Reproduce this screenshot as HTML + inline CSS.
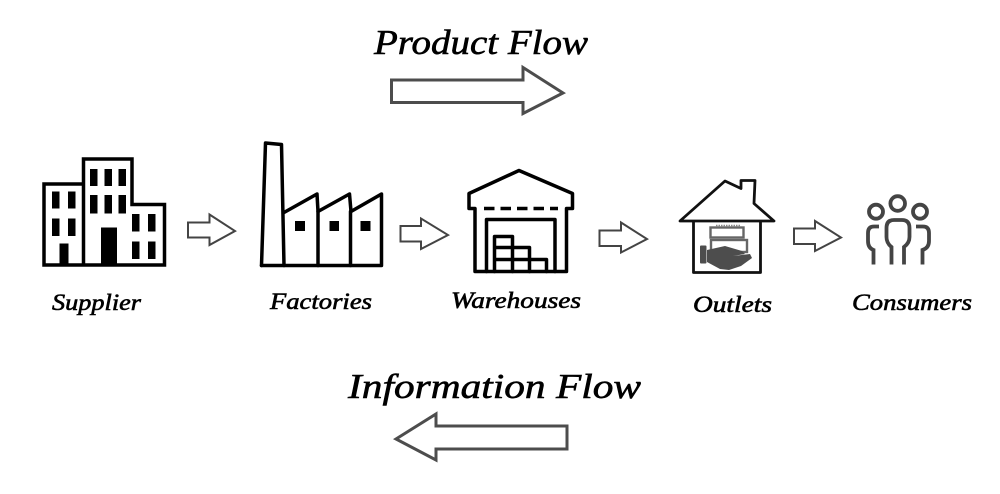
<!DOCTYPE html>
<html>
<head>
<meta charset="utf-8">
<style>
html,body{margin:0;padding:0;background:#fff;width:1000px;height:494px;overflow:hidden}
svg{display:block}
text{font-family:"Liberation Serif",serif;font-style:italic;fill:#000;stroke:#000;stroke-width:.6px}
</style>
</head>
<body>
<svg width="1000" height="494" viewBox="0 0 1000 494" xmlns="http://www.w3.org/2000/svg">
<rect width="1000" height="494" fill="#fff"/>

<!-- Titles -->
<text x="374" y="54" font-size="35" textLength="214" lengthAdjust="spacingAndGlyphs">Product Flow</text>
<text x="348" y="398" font-size="35" textLength="293" lengthAdjust="spacingAndGlyphs">Information Flow</text>

<!-- Big arrows -->
<path d="M391.500 80H523V67.500L563 93 523 113.500V102.500H391.500Z" fill="#fff" stroke="#4d4d4d" stroke-width="3" stroke-linejoin="miter"/>
<path d="M567 426H436V414L396 439 436 460V449H567Z" fill="#fff" stroke="#4d4d4d" stroke-width="3" stroke-linejoin="miter"/>

<!-- Small arrows -->
<g fill="#fff" stroke="#444" stroke-width="2">
<path d="M188 222.500H209.500V214.500L235 231 209.500 245V237.500H188Z"/>
<path d="M400.500 226H421V218.500L448 235 421 249V241.500H400.500Z"/>
<path d="M599.500 230.500H621V222.500L647 239 621 252.500V246H599.500Z"/>
<path d="M794 228.500H815V221L841 237.500 815 251V244H794Z"/>
</g>

<!-- Supplier -->
<g>
<path d="M44 265V184H83.500V159H132V204.500H164.500V265Z M83.500 184V265" fill="#fff" stroke="#000" stroke-width="3.500"/>
<g fill="#000">
<rect x="90" y="169" width="7.500" height="17"/><rect x="104.500" y="169" width="7.500" height="17"/><rect x="118.500" y="169" width="7.500" height="17"/>
<rect x="90" y="195" width="7.500" height="18.500"/><rect x="104.500" y="195" width="7.500" height="18.500"/><rect x="118.500" y="195" width="7.500" height="18.500"/>
<rect x="101" y="227.500" width="16" height="38"/>
<rect x="52" y="191.500" width="7.500" height="17"/><rect x="68" y="191.500" width="7.500" height="17"/>
<rect x="52" y="218.500" width="7.500" height="17.500"/><rect x="68" y="218.500" width="7.500" height="17.500"/>
<rect x="59.500" y="243.500" width="9" height="22"/>
<rect x="132" y="214" width="7.500" height="17.500"/><rect x="148" y="214" width="7.500" height="17.500"/>
<rect x="132" y="241.500" width="7.500" height="17.500"/><rect x="148" y="241.500" width="7.500" height="17.500"/>
</g>
</g>
<text x="52" y="310" font-size="23" textLength="89" lengthAdjust="spacingAndGlyphs">Supplier</text>

<!-- Factories -->
<g fill="none" stroke="#000" stroke-width="3.500" stroke-linejoin="round" stroke-linecap="round">
<path d="M261.500 265.500L265.500 143 281.500 144.500 284 265.500"/>
<path d="M261.500 265.500H381.500V194L351 211.500 349.500 194 318 211.500 317 194 284 212.500"/>
<path d="M318 211.500V265.500M350.500 211.500V265.500"/>
</g>
<g fill="#000">
<rect x="295" y="221" width="10" height="10"/><rect x="329.500" y="221" width="9.500" height="10"/><rect x="360.500" y="221" width="10" height="10"/>
</g>
<text x="270" y="309" font-size="23" textLength="102" lengthAdjust="spacingAndGlyphs">Factories</text>

<!-- Warehouses -->
<g fill="none" stroke="#000" stroke-width="3.500" stroke-linejoin="round" stroke-linecap="round">
<path d="M519 170.500L572.500 193.500V208.500H566.500V271.500H475V208.500H469V193.500Z"/>
<path d="M486.500 271.500V219.500H555V271.500"/>
<path d="M494.500 271.500V236.500H512.500V271.500M512.500 247.500H529.500V271.500M529.500 259.500H546.500V271.500M494.500 247.500H512.500M494.500 259.500H529.500"/>
<path d="M484 208.500H558" stroke-dasharray="10.500 6" stroke-linecap="butt"/>
</g>
<text x="451" y="308" font-size="23" textLength="130" lengthAdjust="spacingAndGlyphs">Warehouses</text>

<!-- Outlets -->
<g fill="none" stroke="#111" stroke-width="2.800" stroke-linejoin="round">
<path d="M680 221L725 181 741 188.500V180.500H755L754 203.500 774 221Z"/>
<path d="M693.500 221V272.500H760.500V221"/>
</g>
<g fill="none" stroke="#666" stroke-width="2.400">
<rect x="710.500" y="227.500" width="33" height="10"/>
<rect x="711" y="240" width="36" height="12"/>
</g>
<path d="M716 225.500H741" stroke="#888" stroke-width="1.500" stroke-dasharray="1.500 1"/>
<rect x="700" y="245.500" width="6.500" height="18" rx="1" fill="#4d4d4d"/>
<path d="M707 250L725 246 742 251 745 254 733 256 750 254 752 258 741 266 729 270 720 269 707 262Z" fill="#4d4d4d"/>
<text x="693" y="312" font-size="23" textLength="79" lengthAdjust="spacingAndGlyphs">Outlets</text>

<!-- Consumers -->
<g fill="none" stroke="#444" stroke-width="3.800">
<circle cx="897.700" cy="203.500" r="7.300"/>
<circle cx="876" cy="211.700" r="7"/>
<circle cx="920" cy="211.700" r="7"/>
<path d="M891.500 264.500V247Q886.500 243 886.500 237V228Q886.500 220 894 220H902Q909.500 220 909.500 228V237Q909.500 243 904 247V264.500"/>
<path d="M879 226.500H874Q868 226.500 868 233V241Q868 248 873.500 250V264.500"/>
<path d="M916 226.500H923Q929 226.500 929 233V241Q929 248 922.500 250V264.500"/>
</g>
<text x="852" y="310" font-size="23" textLength="120" lengthAdjust="spacingAndGlyphs">Consumers</text>
</svg>
</body>
</html>
